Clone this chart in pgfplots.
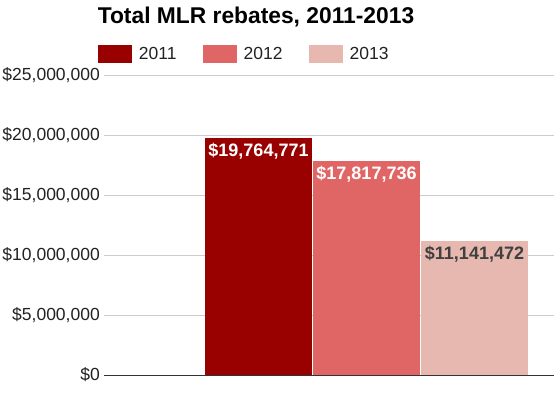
\documentclass[border=0pt]{standalone}
\usepackage{pgfplots}
\pgfplotsset{compat=1.18}
\usepackage{fontspec}
\setmainfont{Liberation Sans}
\definecolor{c2011}{HTML}{990000}
\definecolor{c2012}{HTML}{E06666}
\definecolor{c2013}{HTML}{E6B8AF}
\definecolor{tickc}{HTML}{222222}
\definecolor{gridc}{HTML}{CCCCCC}
\definecolor{axc}{HTML}{333333}
\definecolor{lab3}{HTML}{404040}
\begin{document}
\begin{tikzpicture}
\path[use as bounding box] (-104pt,-24pt) rectangle (450pt,375pt);
\begin{axis}[
  at={(0pt,0pt)}, anchor=south west,
  scale only axis, width=450pt, height=300pt,
  xmin=-1.4306, xmax=2.736,
  ymin=0, ymax=25000000,
  scaled y ticks=false,
  axis x line*=bottom, axis y line*=left,
  x axis line style={axc, line width=1pt},
  y axis line style={draw=none},
  xtick=\empty,
  ytick={0,5000000,10000000,15000000,20000000,25000000},
  yticklabels={\$0,{\$5,000,000},{\$10,000,000},{\$15,000,000},{\$20,000,000},{\$25,000,000}},
  ymajorgrids, grid style={gridc, line width=0.8pt},
  major tick length=0pt,
  yticklabel style={font=\fontsize{17.5}{20}\selectfont, text=tickc, inner sep=0pt, xshift=-4pt, anchor=east},
  ybar, bar width=0.99, bar shift=0pt,
  point meta=explicit symbolic,
  nodes near coords,
  nodes near coords style={font=\bfseries\fontsize{18}{21}\selectfont, anchor=north, inner sep=0pt, yshift=-5pt, text=white},
  title={Total MLR rebates, 2011-2013},
  title style={font=\bfseries\fontsize{22.8}{26}\selectfont, at={(axis description cs:0.3378,1.1523)}, anchor=base, inner sep=0pt},
  legend columns=3,
  legend image code/.code={\fill[#1,draw=none] (0pt,-9pt) rectangle (34pt,9pt);},
  legend style={at={(axis description cs:-0.01333,1.07)}, anchor=west, draw=none, fill=none, inner sep=0pt, outer sep=0pt,
    font=\fontsize{17.5}{20}\selectfont,
    nodes={inner sep=0pt, text=tickc},
    /tikz/every odd column/.append style={column sep=7pt},
    /tikz/every even column/.append style={column sep=26pt}},
]
\addplot[fill=c2011, draw=none] coordinates {(0,19764771) [\$19,764,771]};
\addlegendentry{2011}
\addplot[fill=c2012, draw=none] coordinates {(1,17817736) [\$17,817,736]};
\addlegendentry{2012}
\addplot[fill=c2013, draw=none, nodes near coords style={text=lab3}] coordinates {(2,11141472) [\$11,141,472]};
\addlegendentry{2013}
\end{axis}
\end{tikzpicture}
\end{document}
